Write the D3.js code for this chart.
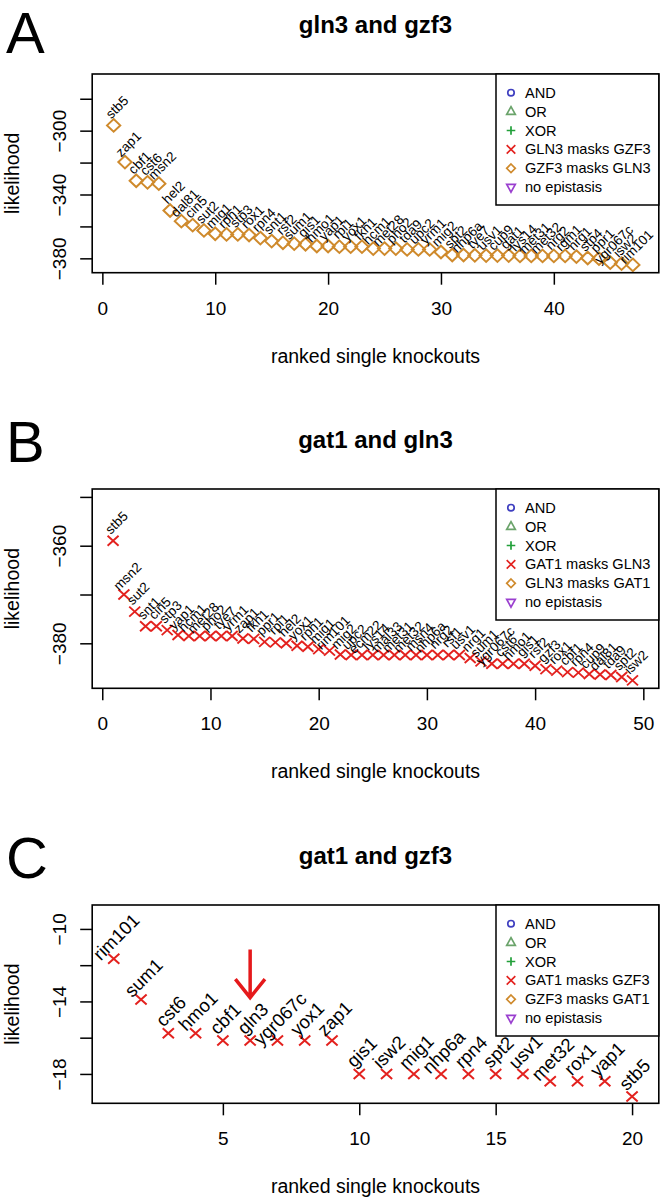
<!DOCTYPE html>
<html><head><meta charset="utf-8">
<script src="https://cdn.jsdelivr.net/npm/d3@7"></script>
<style>
html,body{margin:0;padding:0;background:#fff;}
svg{display:block;font-family:"Liberation Sans",Arial,Helvetica,sans-serif;}
</style></head><body>
<svg id="chart" width="663" height="1200"></svg>
<script>
// ---------- Panel A: gln3 and gzf3 ----------
const titleA = "gln3 and gzf3";
const namesA = ["stb5","zap1","cbf1","cst6","msn2","hel2","dal81","cin5","sut2","mig1","rph1","stp3","rox1","rpn4","snt1","rsf2","sum1","gis1","hmo1","yap1","rpi1","yox1","fkh1","hcm1","met28","pho2","tda9","upc2","yrm1","mig2","spt2","nhp6a","tye7","usv1","cup9","gat1","lys14","met31","met32","nrg2","rgm1","nrg1","stp4","ppr1","ygr067c","isw2","rim101"];
const valuesA = [-296.7,-319.7,-331.4,-332.4,-333.2,-350.0,-356.7,-359.2,-362.5,-364.6,-365.0,-365.0,-365.4,-367.3,-369.2,-370.2,-370.8,-371.2,-372.3,-372.3,-372.7,-372.7,-372.7,-373.9,-373.9,-373.9,-374.4,-374.4,-374.4,-376.0,-377.9,-377.9,-378.1,-378.3,-378.3,-378.3,-378.5,-378.5,-378.5,-378.5,-378.5,-378.9,-379.8,-380.2,-382.7,-383.3,-384.1];
const xTicksA = [0,10,20,30,40];
const yTicksA = [-380,-360,-340,-320,-300,-280];
const yTickLabelsA = [-380,-340,-300];
const legendA = ["AND","OR","XOR","GLN3 masks GZF3","GZF3 masks GLN3","no epistasis"];

// ---------- Panel B: gat1 and gln3 ----------
const titleB = "gat1 and gln3";
const namesB = ["stb5","msn2","sut2","snt1","cin5","stp3","yap1","hcm1","met28","pho2","tye7","yrm1","zap1","fkh1","ppr1","rpi1","hel2","yox1","rph1","mig1","rim101","mig2","upc2","ecm22","lys14","mal33","met31","met32","msn4","nhp6a","nrg2","rsf1","usv1","nrg1","sum1","ygr067c","cst6","hmo1","gis1","rsf2","gzf3","rox1","cbf1","rpn4","cup9","dal81","tda9","spt2","isw2"];
const valuesB = [-359.0,-370.0,-373.5,-376.5,-376.5,-377.3,-378.3,-378.5,-378.5,-378.5,-378.5,-378.5,-379.0,-379.1,-379.7,-379.8,-380.0,-380.5,-380.7,-381.2,-381.5,-382.3,-382.4,-382.4,-382.4,-382.4,-382.4,-382.4,-382.4,-382.4,-382.4,-382.4,-382.4,-383.0,-383.7,-384.2,-384.2,-384.2,-384.2,-384.6,-385.3,-385.6,-385.9,-386.0,-386.3,-386.4,-386.5,-386.9,-387.6];
const xTicksB = [0,10,20,30,40,50];
const yTicksB = [-380,-370,-360,-350];
const yTickLabelsB = [-380,-360];
const legendB = ["AND","OR","XOR","GAT1 masks GLN3","GLN3 masks GAT1","no epistasis"];

// ---------- Panel C: gat1 and gzf3 ----------
const titleC = "gat1 and gzf3";
const namesC = ["rim101","sum1","cst6","hmo1","cbf1","gln3","ygr067c","yox1","zap1","gis1","isw2","mig1","nhp6a","rpn4","spt2","usv1","met32","rox1","yap1","stb5"];
const valuesC = [-11.65,-13.9,-15.75,-15.75,-16.16,-16.16,-16.16,-16.16,-16.16,-18.0,-18.0,-18.0,-18.0,-18.0,-18.0,-18.0,-18.4,-18.4,-18.4,-19.25];
const xTicksC = [5,10,15,20];
const yTicksC = [-18,-16,-14,-12,-10];
const yTickLabelsC = [-18,-14,-10];
const legendC = ["AND","OR","XOR","GAT1 masks GZF3","GZF3 masks GAT1","no epistasis"];
const highlightC = "gln3";

const xLabel = "ranked single knockouts";
const yLabel = "likelihood";

// legend styling (order matches legend entries)
const legendColors = ["#3f3fc0","#6aa36a","#22a03a","#e3211e","#cf8a2c","#9a3fcf"];
const legendShapes = ["circle","triangle","plus","times","diamond","triangleDown"];

function shapePath(type, s, sy) {
  sy = sy || s;
  switch (type) {
    case "circle": return `M${s},0A${s},${s} 0 1 1 ${-s},0A${s},${s} 0 1 1 ${s},0Z`;
    case "triangle": return `M0,${-1.15*sy}L${s},${0.65*sy}L${-s},${0.65*sy}Z`;
    case "triangleDown": return `M0,${1.15*sy}L${s},${-0.65*sy}L${-s},${-0.65*sy}Z`;
    case "plus": return `M${-s},0H${s}M0,${-sy}V${sy}`;
    case "times": return `M${-s},${-sy}L${s},${sy}M${-s},${sy}L${s},${-sy}`;
    case "diamond": return `M0,${-sy}L${s},0L0,${sy}L${-s},0Z`;
  }
}
const fmt = d => d < 0 ? "\u2212" + Math.abs(d) : String(d);

const svg = d3.select("#chart");

const panels = [
  {letter:"A", title:titleA, names:namesA, values:valuesA, xTicks:xTicksA, yTicks:yTicksA, yLabels:yTickLabelsA, legend:legendA,
   box:{l:92.2,t:74,r:658.8,b:272.7}, xDomain:[-0.9,49.3], yDomain:[-389.0,-264.5], letterBase:53,
   marker:"diamond", mSize:[6.6,6.3], mWidth:2, color:legendColors[4], labelSize:13.5, labelOff:[3.5,-18]},
  {letter:"B", title:titleB, names:namesB, values:valuesB, xTicks:xTicksB, yTicks:yTicksB, yLabels:yTickLabelsB, legend:legendB,
   box:{l:92.2,t:489,r:658.8,b:688.3}, xDomain:[-0.93,51.43], yDomain:[-389.22,-348.38], letterBase:462,
   marker:"times", mSize:[5.5,5], mWidth:1.9, color:legendColors[3], labelSize:13.5, labelOff:[3.5,-18]},
  {letter:"C", title:titleC, names:namesC, values:valuesC, xTicks:xTicksC, yTicks:yTicksC, yLabels:yTickLabelsC, legend:legendC,
   box:{l:92.2,t:905,r:658.8,b:1103.3}, xDomain:[0.21,20.98], yDomain:[-19.62,-8.68], letterBase:878,
   marker:"times", mSize:[5.6,5], mWidth:2, color:legendColors[3], labelSize:18.5, labelOff:[2.5,-22], highlight:highlightC}
];

panels.forEach(p => {
  const b = p.box;
  const x = d3.scaleLinear().domain(p.xDomain).range([b.l, b.r]);
  const y = d3.scaleLinear().domain(p.yDomain).range([b.b, b.t]);
  const g = svg.append("g");
  const cx = (b.l + b.r) / 2;

  // panel letter & title
  g.append("text").attr("x", 6).attr("y", p.letterBase).attr("font-size", 58).attr("fill", "#000").text(p.letter);
  g.append("text").attr("x", cx).attr("y", b.t - 41).attr("text-anchor", "middle")
    .attr("font-size", 24).attr("font-weight", "bold").attr("fill", "#000").text(p.title);

  // axes
  const gx = g.append("g").attr("transform", `translate(0,${b.b})`)
    .call(d3.axisBottom(x).tickValues(p.xTicks).tickSize(12).tickFormat(fmt));
  gx.attr("font-family", null).attr("font-size", null);
  gx.select(".domain").remove();
  gx.selectAll(".tick line").attr("stroke", "#000").attr("stroke-width", 1.5);
  gx.selectAll(".tick text").attr("y", 35.5).attr("dy", null).attr("dominant-baseline", "central")
    .attr("font-size", 19).attr("fill", "#000");

  const gy = g.append("g").attr("transform", `translate(${b.l},0)`)
    .call(d3.axisLeft(y).tickValues(p.yTicks).tickSize(12).tickFormat(d => p.yLabels.includes(d) ? fmt(d) : ""));
  gy.attr("font-family", null).attr("font-size", null);
  gy.select(".domain").remove();
  gy.selectAll(".tick line").attr("stroke", "#000").attr("stroke-width", 1.5);
  gy.selectAll(".tick text").attr("x", 0).attr("dy", null)
    .attr("transform", "translate(-33,0) rotate(-90)").attr("text-anchor", "middle")
    .attr("dominant-baseline", "central").attr("font-size", 19).attr("fill", "#000");

  // axis titles
  g.append("text").attr("x", cx).attr("y", b.b + 83).attr("text-anchor", "middle")
    .attr("dominant-baseline", "central").attr("font-size", 19.5).attr("fill", "#000").text(xLabel);
  g.append("text").attr("transform", `translate(12,${(b.t + b.b) / 2}) rotate(-90)`).attr("text-anchor", "middle")
    .attr("dominant-baseline", "central").attr("font-size", 19.5).attr("fill", "#000").text(yLabel);

  // data
  const data = p.names.map((n, i) => ({name: n, rank: i + 1, value: p.values[i]}));
  g.append("g").selectAll("path").data(data).join("path")
    .attr("transform", d => `translate(${x(d.rank)},${y(d.value)})`)
    .attr("d", shapePath(p.marker, p.mSize[0], p.mSize[1]))
    .attr("fill", "none").attr("stroke", p.color).attr("stroke-width", p.mWidth);
  g.append("g").selectAll("text").data(data).join("text")
    .attr("transform", d => `translate(${x(d.rank) + p.labelOff[0]},${y(d.value) + p.labelOff[1]}) rotate(-45)`)
    .attr("text-anchor", "middle").attr("dominant-baseline", "central")
    .attr("font-size", p.labelSize).attr("fill", "#000").text(d => d.name);

  // highlight arrow
  if (p.highlight) {
    const h = data.find(d => d.name === p.highlight);
    const ax = x(h.rank), ay = y(h.value);
    g.append("path").attr("d", `M${ax},${ay - 91}V${ay - 44}M${ax - 14.8},${ay - 61.5}L${ax},${ay - 43}L${ax + 14.8},${ay - 61.5}`)
      .attr("fill", "none").attr("stroke", "#e5191b").attr("stroke-width", 3.5).attr("stroke-linejoin", "miter");
  }

  // plot frame
  g.append("rect").attr("x", b.l).attr("y", b.t).attr("width", b.r - b.l).attr("height", b.b - b.t)
    .attr("fill", "none").attr("stroke", "#000").attr("stroke-width", 1.6);

  // legend
  const lx = 496, lh = 131;
  const lg = g.append("g");
  lg.append("rect").attr("x", lx).attr("y", b.t).attr("width", b.r - lx).attr("height", lh)
    .attr("fill", "#fff").attr("stroke", "#000").attr("stroke-width", 1.5);
  p.legend.forEach((lab, i) => {
    const ry = b.t + 18.7 + i * 18.9;
    const shp = legendShapes[i];
    lg.append("path").attr("transform", `translate(${lx + 15},${ry})`)
      .attr("d", shapePath(shp, shp === "circle" ? 3.2 : 4.3, shp === "circle" ? 3.2 : 4.3))
      .attr("fill", "none").attr("stroke", legendColors[i]).attr("stroke-width", 1.7);
    lg.append("text").attr("x", lx + 29).attr("y", ry).attr("dominant-baseline", "central")
      .attr("font-size", 14.6).attr("fill", "#000").text(lab);
  });
});
</script>
</body></html>
